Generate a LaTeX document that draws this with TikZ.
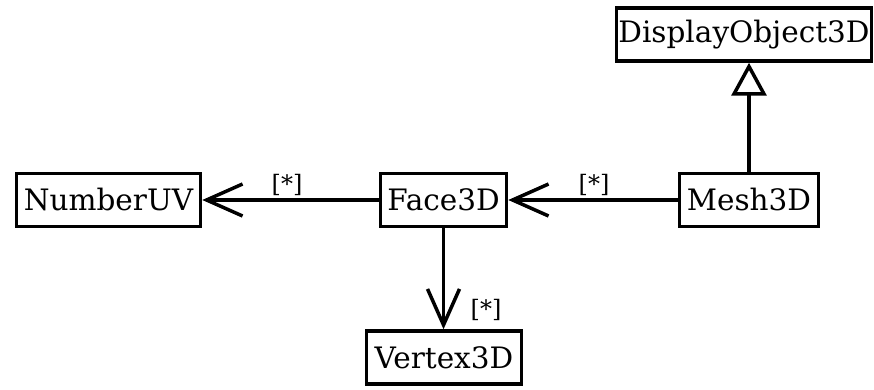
\documentclass[tikz,border=0pt]{standalone}
\usepackage{fontspec}
\setmainfont{DejaVu Serif}
\usetikzlibrary{arrows.meta}
\begin{document}
\begin{tikzpicture}[x=1pt,y=-1pt,
  cls/.style={draw,line width=3.5pt,inner sep=0pt,font=\fontsize{29.5}{32}\selectfont,minimum height=53pt},
  assoc/.style={line width=3.5pt,-{Straight Barb[length=36pt,width=32pt,line width=3.5pt]}},
  inherit/.style={line width=3.5pt,-{Triangle[open,length=33pt,width=35pt,line width=3.5pt,fill=white]}},
  mult/.style={font=\fontsize{24}{26}\selectfont,inner sep=0pt}]
\useasboundingbox (0,0) rectangle (874,390);
\node[cls,minimum width=255pt] (disp) at (744,34.5) {DisplayObject3D};
\node[cls,minimum width=139pt] (mesh) at (749,200) {Mesh3D};
\node[cls,minimum width=126pt] (face) at (443.5,200) {Face3D};
\node[cls,minimum width=184pt] (nuv) at (108.5,200) {NumberUV};
\node[cls,minimum width=155pt] (vert) at (444,357.5) {Vertex3D};
\draw[inherit] (mesh.north) -- (mesh.north |- disp.south);
\draw[assoc] (mesh.west) -- (face.east);
\draw[assoc] (face.west) -- (nuv.east);
\draw[assoc] (face.south) -- (face.south |- vert.north);
\node[mult] (m1) at (287,185) {[*]};
\node[mult] (m2) at (594,185) {[*]};
\node[mult] (m3) at (486,310) {[*]};
\end{tikzpicture}
\end{document}
